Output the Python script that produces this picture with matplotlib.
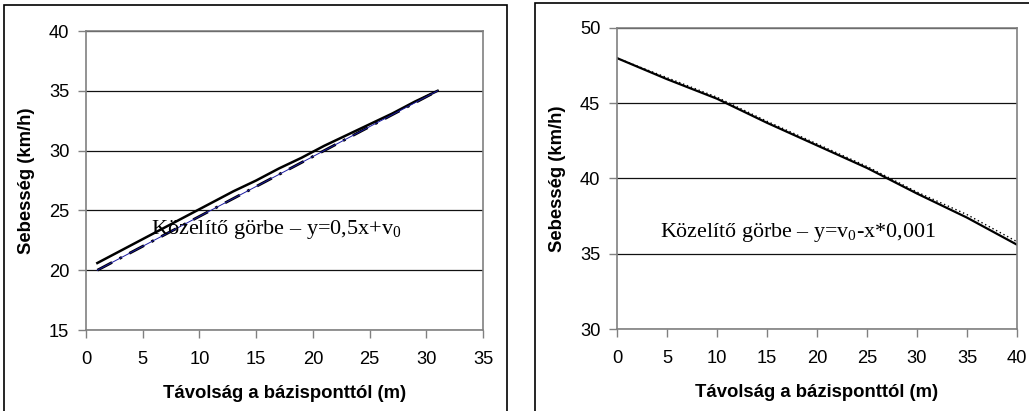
import matplotlib
matplotlib.use("Agg")
import matplotlib.pyplot as plt
from matplotlib.patches import Rectangle

# Left chart data
left_x = [1, 3, 5, 7, 9, 11, 13, 15, 17, 19, 21, 23, 25, 27, 29, 31]
left_measured = [20.6, 21.6, 22.6, 23.6, 24.6, 25.6, 26.6, 27.5, 28.5, 29.4, 30.4, 31.3, 32.2, 33.1, 34.1, 35.0]
left_approx = [20.0, 21.0, 22.0, 23.0, 24.0, 25.0, 26.0, 27.0, 28.0, 29.0, 30.0, 31.0, 32.0, 33.0, 34.0, 35.0]

# Right chart data
right_x = [0, 5, 10, 15, 20, 25, 30, 35, 40]
right_measured = [48.0, 46.6, 45.3, 43.7, 42.2, 40.7, 39.0, 37.4, 35.6]
right_approx = [48.0, 46.7, 45.4, 43.8, 42.3, 40.8, 39.1, 37.6, 35.8]

left_xticks = [0, 5, 10, 15, 20, 25, 30, 35]
left_yticks = [15, 20, 25, 30, 35, 40]
right_xticks = [0, 5, 10, 15, 20, 25, 30, 35, 40]
right_yticks = [30, 35, 40, 45, 50]

xlabel = "Távolság a bázisponttól (m)"
ylabel = "Sebesség (km/h)"
left_note = r"Közelítő görbe – y=0,5x+v$_0$"
right_note = r"Közelítő görbe – y=v$_0$-x*0,001"

plt.rcParams['font.family'] = ['Liberation Sans', 'DejaVu Sans']
plt.rcParams['mathtext.fontset'] = 'custom'
plt.rcParams['mathtext.rm'] = 'Liberation Serif'

W, H = 1029, 411
fig = plt.figure(figsize=(W / 100, H / 100), dpi=100)

def px_axes(x0, x1, y0, y1):
    return fig.add_axes([x0 / W, 1 - y1 / H, (x1 - x0) / W, (y1 - y0) / H])

# panel borders
fig.patches.append(Rectangle((4 / W, -0.01), (507 - 4) / W, 1 - 5 / H + 0.01,
                             transform=fig.transFigure, fill=False, edgecolor='black', lw=1.2))
fig.patches.append(Rectangle((535 / W, -0.01), (1040 - 535) / W, 1 - 3 / H + 0.01,
                             transform=fig.transFigure, fill=False, edgecolor='black', lw=1.2))

def style(ax, xt, yt):
    ax.set_xticks(xt)
    ax.set_yticks(yt)
    ax.set_xlim(xt[0], xt[-1])
    ax.set_ylim(yt[0], yt[-1])
    ax.grid(axis='y', color='#111111', lw=0.9)
    ax.set_axisbelow(True)
    for s in ax.spines.values():
        s.set_color('#808080')
        s.set_linewidth(1.2)
    ax.tick_params(direction='out', length=6, color='#808080', labelsize=13.2, width=1, pad=6)
    ax.tick_params(axis='x', pad=9)
    ax.set_xlabel(xlabel, fontsize=13.3, fontweight='bold', labelpad=12)
    ax.set_ylabel(ylabel, fontsize=13.3, fontweight='bold', labelpad=10)

ax1 = px_axes(86, 483, 31, 330)
style(ax1, left_xticks, left_yticks)
ax1.plot(left_x, left_measured, color='black', lw=1.8)
ax1.plot(left_x, left_approx, color='black', lw=2.0, ls=(0, (6, 3, 1, 3)))
ax1.plot(left_x, left_approx, color='#1a1aa0', lw=0.7)
ax1.text(16.8, 23.4, left_note, fontsize=16, family='Liberation Serif', va='center', ha='center')

ax2 = px_axes(617, 1017, 28, 329)
style(ax2, right_xticks, right_yticks)
ax2.plot(right_x, right_approx, color='black', lw=1.0, ls=(0, (1, 2)))
ax2.plot(right_x, right_measured, color='black', lw=1.6)
ax2.text(18.1, 36.4, right_note, fontsize=15.8, family='Liberation Serif', va='center', ha='center')

fig.savefig("out.png", dpi=100)
